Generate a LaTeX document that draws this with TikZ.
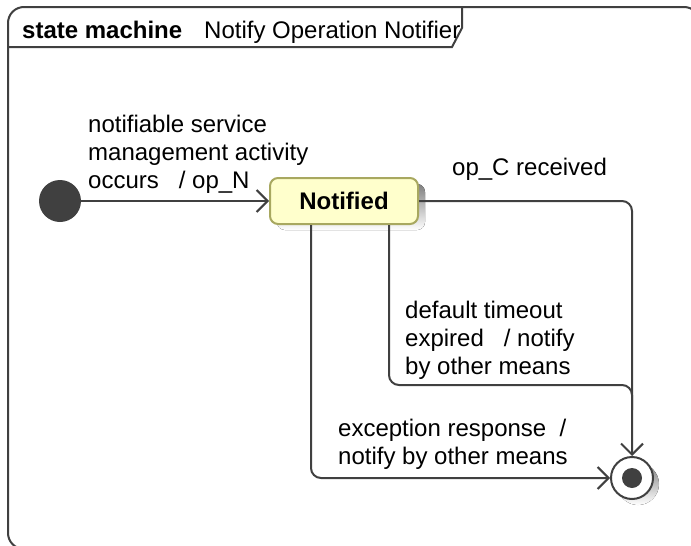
\documentclass[tikz,border=0pt]{standalone}
\usepackage{fontspec}
\setmainfont{Liberation Sans}
\usetikzlibrary{arrows.meta}
\definecolor{ln}{HTML}{404040}
\definecolor{stfill}{HTML}{FFFFCC}
\definecolor{stdraw}{HTML}{A8A860}
\definecolor{shade}{HTML}{B4B4B4}
\tikzset{
  lbl/.style={font=\fontsize{24}{28}\selectfont, align=left, inner sep=0pt, anchor=west, text=black},
  trans/.style={draw=ln, line width=2pt, rounded corners=10pt, -{Straight Barb[length=11pt,width=22pt,line width=2pt]}},
  statebox/.style={draw=stdraw, fill=stfill, line width=2pt, rounded corners=8pt, minimum width=148pt, minimum height=46pt, font=\fontsize{24}{28}\selectfont\bfseries},
}
\begin{document}
\begin{tikzpicture}[x=1pt,y=-1pt]
\useasboundingbox (0,0) rectangle (691,546);
\begin{scope}
\clip (0,0) rectangle (691,546);
% frame
\draw[ln, line width=2pt, rounded corners=16pt] (8,7) rectangle (700,549);
\draw[ln, line width=2pt] (8,47) -- (452,47) -- (462,28) -- (462,7);
\end{scope}
\node[anchor=base west, inner sep=0pt, font=\fontsize{24}{28}\selectfont\bfseries] (kw) at (22,38) {state machine};
\node[anchor=base west, inner sep=0pt, font=\fontsize{24}{28}\selectfont] (nm) at (204,38) {Notify Operation Notifier};
% initial
\node[circle, fill=ln, minimum size=42pt, inner sep=0pt] (init) at (60,201) {};
% state shadow and state
\fill[shade, rounded corners=8pt] (277,184) rectangle (425,230);
\node[statebox] (notif) at (344,201) {Notified};
% final
\fill[shade] (638,484) circle (21pt);
\node[circle, draw=ln, fill=white, line width=2pt, minimum size=42pt, inner sep=0pt] (fin) at (632,478) {};
\fill[ln] (fin.center) circle (10pt);
% transitions
\coordinate (c1) at (632,410);
\draw[trans] (init.east) -- (notif.west);
\draw[trans] (notif.east) -- (632,201) -- (fin.north);
\draw[draw=ln, line width=2pt, rounded corners=10pt] (notif.south -| 389,0) -- (389,385) -- (632,385) -- (c1);
\draw[trans] (notif.south -| 311,0) -- (311,478) -- (fin.west);
% labels
\node[lbl] (l1) at (88,154) {notifiable service\\management activity\\occurs\ \ \ / op\_N};
\node[lbl] (l2) at (452,169) {op\_C received};
\node[lbl] (l3) at (405,340) {default timeout\\expired\ \ \ / notify\\by other means};
\node[lbl] (l4) at (338,444) {exception response\ \ /\\notify by other means};
\end{tikzpicture}
\end{document}
